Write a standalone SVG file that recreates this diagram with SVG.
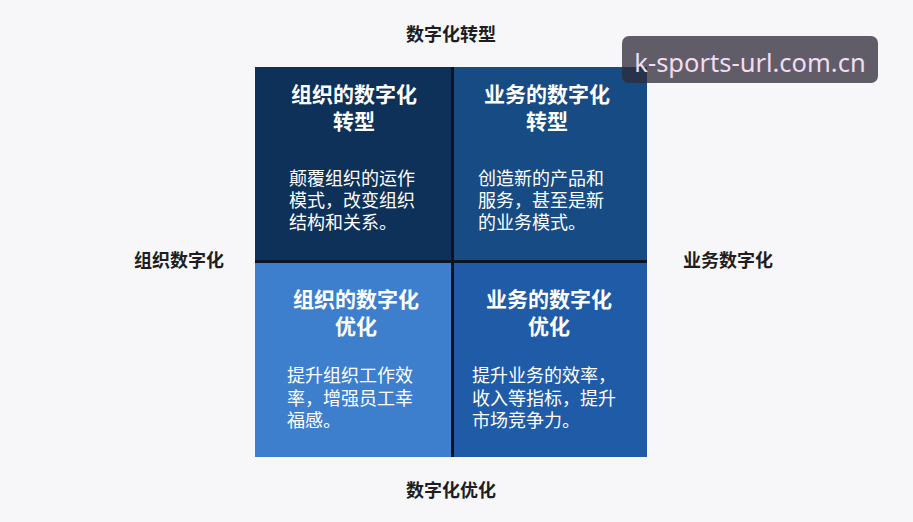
<svg xmlns="http://www.w3.org/2000/svg" width="913" height="522" viewBox="0 0 913 522">
<style>
text{font-family:"Noto Sans CJK SC","Noto Sans",sans-serif;}
.axis{font-size:18px;font-weight:700;fill:#1e1e22;}
.title{font-size:21px;font-weight:700;fill:#ffffff;text-anchor:middle;}
.body{font-size:18px;fill:#ffffff;}
.div{stroke:#0a1422;stroke-width:3;}
</style>
<rect width="913" height="522" fill="#f7f7f9"/>
<g id="quad-tl">
<rect x="255" y="67" width="197" height="195" fill="#0e315a"/>
<text class="title" x="354" y="102">组织的数字化</text>
<text class="title" x="354" y="129">转型</text>
<text class="body" x="289" y="185">颠覆组织的运作</text>
<text class="body" x="289" y="207">模式，改变组织</text>
<text class="body" x="289" y="229">结构和关系。</text>
</g>
<g id="quad-tr">
<rect x="452" y="67" width="195" height="195" fill="#174b83"/>
<text class="title" x="547" y="102">业务的数字化</text>
<text class="title" x="547" y="129">转型</text>
<text class="body" x="478" y="185">创造新的产品和</text>
<text class="body" x="478" y="207">服务，甚至是新</text>
<text class="body" x="478" y="229">的业务模式。</text>
</g>
<g id="quad-bl">
<rect x="255" y="262" width="197" height="195" fill="#3e7fcd"/>
<text class="title" x="356" y="307">组织的数字化</text>
<text class="title" x="356" y="334">优化</text>
<text class="body" x="287" y="382">提升组织工作效</text>
<text class="body" x="287" y="405">率，增强员工幸</text>
<text class="body" x="287" y="427">福感。</text>
</g>
<g id="quad-br">
<rect x="452" y="262" width="195" height="195" fill="#1f5ba6"/>
<text class="title" x="549" y="307">业务的数字化</text>
<text class="title" x="549" y="334">优化</text>
<text class="body" x="472" y="382">提升业务的效率，</text>
<text class="body" x="472" y="405">收入等指标，提升</text>
<text class="body" x="472" y="427">市场竞争力。</text>
</g>
<g id="connectors">
<line class="div" x1="452.5" y1="67" x2="452.5" y2="457"/>
<line class="div" x1="255" y1="261.5" x2="647" y2="261.5"/>
</g>
<g id="axis-labels">
<text class="axis" x="451" y="41" text-anchor="middle">数字化转型</text>
<text class="axis" x="451" y="497" text-anchor="middle">数字化优化</text>
<text class="axis" x="179" y="267" text-anchor="middle">组织数字化</text>
<text class="axis" x="728" y="267" text-anchor="middle">业务数字化</text>
</g>
<g id="watermark">
<rect x="622" y="36" width="256" height="47" rx="7" fill="#2e2a38" fill-opacity="0.75"/>
<text x="750" y="72" text-anchor="middle" font-size="25.5" fill="#f2dcf2" style="font-family:'Noto Sans','Open Sans',sans-serif">k-sports-url.com.cn</text>
</g>
</svg>
